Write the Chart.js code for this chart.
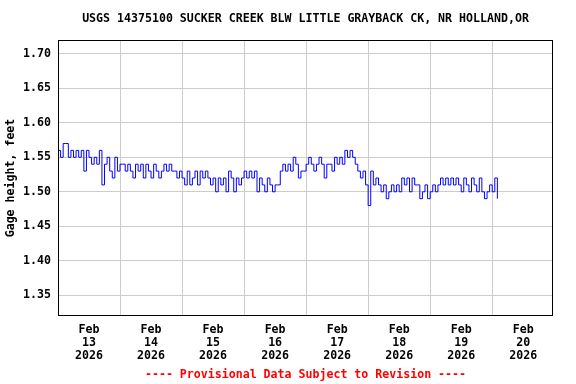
<!DOCTYPE html>
<html>
<head>
<meta charset="utf-8">
<title>USGS 14375100</title>
<script src="https://cdn.jsdelivr.net/npm/chart.js@4.4.1/dist/chart.umd.min.js"></script>
<style>
    html, body { margin: 0; padding: 0; background: #fff; }
</style>
</head>
<body>
<canvas id="graficoNivel" width="576" height="384"></canvas>
<script>
// Textos del grafico
const titulo = 'USGS 14375100 SUCKER CREEK BLW LITTLE GRAYBACK CK, NR HOLLAND,OR';
const tituloEje = 'Gage height, feet';
const avisoPie = '---- Provisional Data Subject to Revision ----';

// Etiquetas del eje X (medianoche de cada dia)
const diasMes = ['13', '14', '15', '16', '17', '18', '19', '20'];
const mes = 'Feb';
const anio = '2026';

// Ticks del eje Y
const ticksNivel = [1.35, 1.40, 1.45, 1.50, 1.55, 1.60, 1.65, 1.70];

// Nivel del agua (pies), un valor por hora
// Feb 12 desde las 12:00
const nivelFeb12 = [1.56, 1.55, 1.57, 1.57, 1.55, 1.56, 1.55, 1.56, 1.55, 1.56, 1.53, 1.56];
const nivelFeb13 = [1.55, 1.54, 1.55, 1.54, 1.56, 1.51, 1.54, 1.55, 1.53, 1.52, 1.55, 1.53,
                    1.54, 1.54, 1.53, 1.54, 1.53, 1.52, 1.54, 1.53, 1.54, 1.52, 1.54, 1.53];
const nivelFeb14 = [1.52, 1.54, 1.53, 1.52, 1.53, 1.54, 1.53, 1.54, 1.53, 1.53, 1.52, 1.53,
                    1.52, 1.51, 1.53, 1.51, 1.52, 1.53, 1.51, 1.53, 1.52, 1.53, 1.52, 1.51];
const nivelFeb15 = [1.52, 1.50, 1.52, 1.51, 1.52, 1.50, 1.53, 1.52, 1.50, 1.52, 1.51, 1.52,
                    1.53, 1.52, 1.53, 1.52, 1.53, 1.50, 1.52, 1.51, 1.50, 1.52, 1.51, 1.50];
const nivelFeb16 = [1.51, 1.51, 1.53, 1.54, 1.53, 1.54, 1.53, 1.55, 1.54, 1.52, 1.53, 1.53,
                    1.54, 1.55, 1.54, 1.53, 1.54, 1.55, 1.54, 1.52, 1.54, 1.54, 1.53, 1.55];
const nivelFeb17 = [1.54, 1.55, 1.54, 1.56, 1.55, 1.56, 1.55, 1.54, 1.53, 1.52, 1.53, 1.51,
                    1.48, 1.53, 1.51, 1.52, 1.51, 1.50, 1.51, 1.49, 1.50, 1.51, 1.50, 1.51];
const nivelFeb18 = [1.50, 1.52, 1.51, 1.52, 1.50, 1.52, 1.51, 1.51, 1.49, 1.50, 1.51, 1.49,
                    1.50, 1.51, 1.50, 1.51, 1.52, 1.51, 1.52, 1.51, 1.52, 1.51, 1.52, 1.51];
// Feb 19 hasta las 14:00
const nivelFeb19 = [1.50, 1.52, 1.51, 1.50, 1.52, 1.51, 1.50, 1.52, 1.50, 1.49, 1.50, 1.51,
                    1.50, 1.52, 1.49];

// Primera lectura: Feb 12 a las 12:00 (medio dia antes del Feb 13)
const horaInicio = -12;

const fuente = '"DejaVu Sans Mono", "Liberation Mono", monospace';

// Juntamos las series y calculamos el dia (0 = Feb 13 00:00) de cada lectura
const lecturas = [].concat(nivelFeb12, nivelFeb13, nivelFeb14, nivelFeb15,
                           nivelFeb16, nivelFeb17, nivelFeb18, nivelFeb19);
const puntos = lecturas.map(function (v, i) {
    return { x: (horaInicio + i) / 24, y: v };
});

// Marco, titulo y aviso en rojo
const decoracion = {
    id: 'decoracion',
    afterDraw: function (chart) {
        const ctx = chart.ctx;
        const a = chart.chartArea;
        ctx.save();
        ctx.strokeStyle = '#000';
        ctx.lineWidth = 1;
        ctx.strokeRect(a.left + 0.5, a.top + 0.5, a.right - a.left - 1, a.bottom - a.top - 1);
        ctx.font = 'bold 11.6px ' + fuente;
        ctx.textAlign = 'center';
        ctx.textBaseline = 'middle';
        const cx = (a.left + a.right) / 2;
        ctx.fillStyle = '#000';
        ctx.fillText(titulo, cx, 19);
        ctx.fillStyle = '#ff0000';
        ctx.fillText(avisoPie, cx, 375);
        ctx.restore();
    }
};

new Chart(document.getElementById('graficoNivel'), {
    type: 'line',
    data: {
        datasets: [{
            data: puntos,
            borderColor: '#0000ff',
            borderWidth: 1,
            pointRadius: 0,
            stepped: true,
            fill: false
        }]
    },
    options: {
        responsive: false,
        animation: false,
        layout: { padding: { left: 0, right: 23, top: 40, bottom: 0 } },
        plugins: {
            legend: { display: false },
            tooltip: { enabled: false }
        },
        scales: {
            x: {
                type: 'linear',
                min: -0.5,
                max: 7.48,
                afterBuildTicks: function (scale) {
                    const t = [];
                    for (let k = -1; k <= 14; k++) t.push({ value: k / 2 });
                    scale.ticks = t;
                },
                afterFit: function (scale) { scale.height = 68; },
                border: { display: false },
                grid: {
                    drawTicks: false,
                    color: function (c) {
                        if (!c.tick) return 'rgba(0,0,0,0)';
                        return Number.isInteger(c.tick.value) ? 'rgba(0,0,0,0)' : '#cccccc';
                    },
                    lineWidth: 1
                },
                ticks: {
                    autoSkip: false,
                    maxRotation: 0,
                    minRotation: 0,
                    padding: 8,
                    color: '#000',
                    font: { family: fuente, size: 11.6, weight: 'bold', lineHeight: 1.1 },
                    callback: function (v) {
                        if (Number.isInteger(v) && v >= 0 && v < diasMes.length) {
                            return [mes, diasMes[v], anio];
                        }
                        return '';
                    }
                }
            },
            y: {
                min: 1.32,
                max: 1.72,
                afterBuildTicks: function (scale) {
                    scale.ticks = ticksNivel.map(function (v) { return { value: v }; });
                },
                afterFit: function (scale) { scale.width = 58; },
                border: { display: false },
                grid: { drawTicks: false, color: '#cccccc', lineWidth: 1 },
                ticks: {
                    padding: 7,
                    color: '#000',
                    font: { family: fuente, size: 11.6, weight: 'bold' },
                    callback: function (v) { return Number(v).toFixed(2); }
                },
                title: {
                    display: true,
                    text: tituloEje,
                    color: '#000',
                    padding: { top: 5, bottom: 0 },
                    font: { family: fuente, size: 11.6, weight: 'bold', lineHeight: 1.1 }
                }
            }
        }
    },
    plugins: [decoracion]
});
</script>
</body>
</html>
